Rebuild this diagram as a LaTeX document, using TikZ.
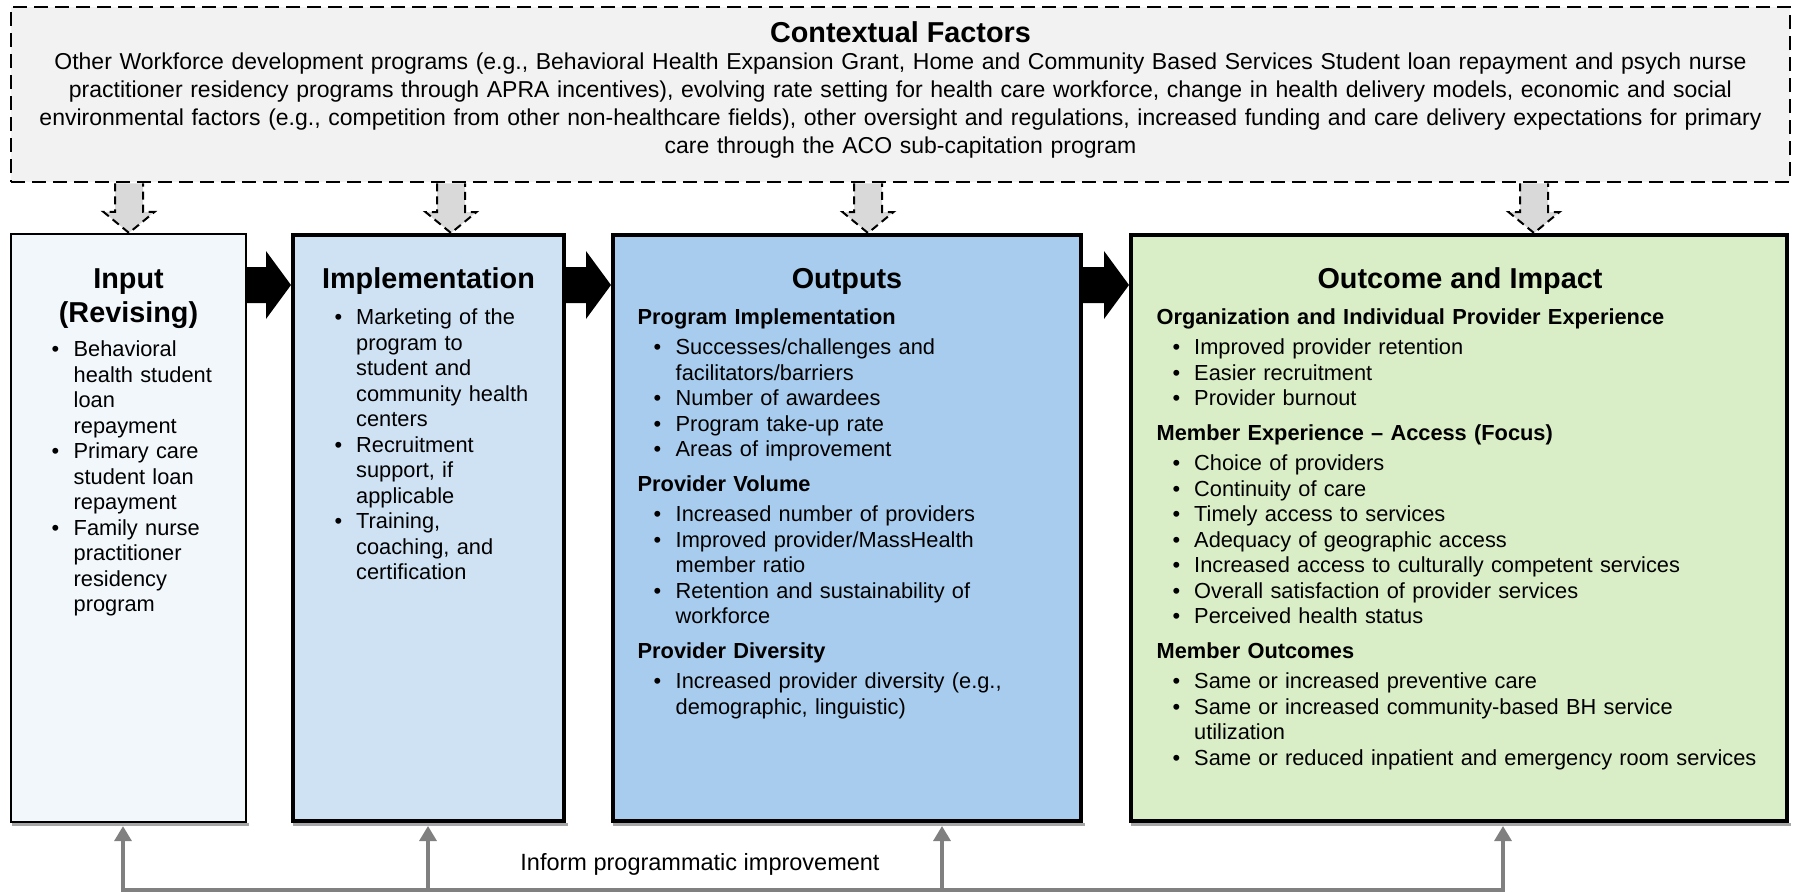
\documentclass[tikz,border=0pt]{standalone}
\usepackage{fontspec}
\setmainfont{Liberation Sans}
\usetikzlibrary{calc,arrows.meta}
\definecolor{ctxfill}{HTML}{F2F2F2}
\definecolor{arrfill}{HTML}{D9D9D9}
\definecolor{inputc}{HTML}{F2F7FC}
\definecolor{implc}{HTML}{CFE2F4}
\definecolor{outpc}{HTML}{A8CCEE}
\definecolor{outcc}{HTML}{D9EEC6}
\definecolor{fbc}{HTML}{808080}
\definecolor{shadc}{HTML}{A6A6A6}
\newlength\bulin
\newlength\txtin
\newcommand\bodyfont{\fontsize{21.8}{25.5}\selectfont}
\newcommand\titlefont{\fontsize{28.8}{34}\selectfont\bfseries}
\newcommand\bitem[1]{\par\noindent\hangindent=\txtin\hangafter=1\strut\hspace*{\bulin}\makebox[\dimexpr\txtin-\bulin\relax][l]{\textbullet}#1\par}
\newcommand\bhead[1]{\par\noindent\strut\textbf{#1}\par\vspace{4.5pt}}
\newcommand\hgap{\vspace{9.5pt}}
\tikzset{
  box/.style={draw=black, line width=4pt, minimum height=586pt, inner sep=0pt},
  ctxbox/.style={draw=black, fill=ctxfill, line width=2.5pt, dash pattern=on 14pt off 7pt, inner sep=0pt},
  ctxarr/.style={draw=black, fill=arrfill, line width=2pt, dash pattern=on 8pt off 5pt},
  bigarr/.style={fill=black},
  body/.style={font=\bodyfont, inner sep=0pt, anchor=north west},
  ttl/.style={font=\titlefont, inner sep=0pt, anchor=base},
  fb/.style={draw=fbc, line width=3.3pt, -{Triangle[width=17pt,length=15pt]}},
  fbboth/.style={draw=fbc, line width=3.3pt, {Triangle[width=17pt,length=15pt]}-{Triangle[width=17pt,length=15pt]}},
}
\begin{document}
\begin{tikzpicture}[x=1pt,y=-1pt]
\useasboundingbox (0,0) rectangle (1793,892);

% contextual factors
\node[ctxbox, minimum width=1779pt, minimum height=175pt] (ctx) at (900.5,94.5) {};
\node[ttl] (ctxT) at (900.5,42) {Contextual Factors};
\node[inner sep=0pt, anchor=north, text width=1770pt, font=\fontsize{23}{28}\selectfont] (ctxbody) at (900.5,49.4)
{\centering\strut Other Workforce development programs (e.g., Behavioral Health Expansion Grant, Home and Community Based Services Student loan repayment and psych nurse\\
practitioner residency programs through APRA incentives), evolving rate setting for health care workforce, change in health delivery models, economic and social\\
environmental factors (e.g., competition from other non-healthcare fields), other oversight and regulations, increased funding and care delivery expectations for primary\\
care through the ACO sub-capitation program\par};

% boxes
\node[box, line width=2.2pt, fill=inputc, minimum width=235pt, minimum height=588pt] (input) at (128.5,528) {};
\node[box, fill=implc, minimum width=271pt] (impl) at (428.5,528) {};
\node[box, fill=outpc, minimum width=468pt] (outp) at (847,528) {};
\node[box, fill=outcc, minimum width=656pt] (outc) at (1459,528) {};
\foreach \b in {input,impl,outp,outc}
  \fill[shadc] ($(\b.south west)+(2,0)$) rectangle ($(\b.south east)+(2,2.5)$);

% titles
\node[ttl] (inputT1) at (128.5,288) {Input};
\node[ttl] (inputT2) at (128.5,322) {(Revising)};
\node[ttl] (implT) at (428.5,288) {Implementation};
\node[ttl] (outpT) at (847,288) {Outputs};
\node[ttl] (outcT) at (1460,288) {Outcome and Impact};

% bodies
\node[body, text width=200pt] (inputB) at (51.5,331.15)
{\setlength\bulin{0pt}\setlength\txtin{22pt}%
\bitem{Behavioral\newline health student\newline loan\newline repayment}
\bitem{Primary care\newline student loan\newline repayment}
\bitem{Family nurse\newline practitioner\newline residency\newline program}};

\node[body, text width=240pt] (implB) at (334.5,299.15)
{\setlength\bulin{0pt}\setlength\txtin{21.5pt}%
\bitem{Marketing of the\newline program to\newline student and\newline community health\newline centers}
\bitem{Recruitment\newline support, if\newline applicable}
\bitem{Training,\newline coaching, and\newline certification}};

\node[body, text width=440pt] (outpB) at (637.5,299.15)
{\setlength\bulin{16pt}\setlength\txtin{38pt}%
\bhead{Program Implementation}
\bitem{Successes/challenges and\newline facilitators/barriers}
\bitem{Number of awardees}
\bitem{Program take-up rate}
\bitem{Areas of improvement}
\hgap\bhead{Provider Volume}
\bitem{Increased number of providers}
\bitem{Improved provider/MassHealth\newline member ratio}
\bitem{Retention and sustainability of\newline workforce}
\hgap\bhead{Provider Diversity}
\bitem{Increased provider diversity (e.g.,\newline demographic, linguistic)}};

\node[body, text width=625pt] (outcB) at (1156.5,299.15)
{\setlength\bulin{16pt}\setlength\txtin{37.5pt}%
\bhead{Organization and Individual Provider Experience}
\bitem{Improved provider retention}
\bitem{Easier recruitment}
\bitem{Provider burnout}
\hgap\bhead{Member Experience – Access (Focus)}
\bitem{Choice of providers}
\bitem{Continuity of care}
\bitem{Timely access to services}
\bitem{Adequacy of geographic access}
\bitem{Increased access to culturally competent services}
\bitem{Overall satisfaction of provider services}
\bitem{Perceived health status}
\hgap\bhead{Member Outcomes}
\bitem{Same or increased preventive care}
\bitem{Same or increased community-based BH service\newline utilization}
\bitem{Same or reduced inpatient and emergency room services}};

% dashed context arrows
\foreach \cx/\bx in {129/input,451/impl,868/outp,1534/outc}{
  \coordinate (ax) at (\cx,0);
  \draw[ctxarr] ($(ctx.south -| ax)+(-14,0)$) -- ($(\bx.north -| ax)+(-14,-21)$) -- ($(\bx.north -| ax)+(-25.5,-21)$) -- (\bx.north -| ax) -- ($(\bx.north -| ax)+(25.5,-21)$) -- ($(\bx.north -| ax)+(14,-21)$) -- ($(ctx.south -| ax)+(14,0)$);
}

% big black arrows
\coordinate (st) at (0,267);
\coordinate (sb) at (0,303);
\coordinate (ht) at (0,251);
\coordinate (hb) at (0,319);
\coordinate (am) at (0,285);
\foreach \a/\b in {input/impl,impl/outp,outp/outc}{
  \fill[bigarr] (\a.east |- st) -- ($(\b.west |- st)+(-25,0)$) -- ($(\b.west |- ht)+(-25,0)$) -- (\b.west |- am) -- ($(\b.west |- hb)+(-25,0)$) -- ($(\b.west |- sb)+(-25,0)$) -- (\a.east |- sb) -- cycle;
}

% feedback
\coordinate (f1) at (123,890);
\coordinate (f2) at (428,890);
\coordinate (f3) at (942,890);
\coordinate (f4) at (1503,890);
\draw[fbboth] ($(f1 |- input.south)+(0,3)$) -- (f1) -- (f4) -- ($(f4 |- outc.south)+(0,3)$);
\draw[fb] (f2) -- ($(f2 |- impl.south)+(0,3)$);
\draw[fb] (f3) -- ($(f3 |- outp.south)+(0,3)$);
\node[font=\fontsize{23.5}{28}\selectfont, inner sep=0pt, anchor=base] (fblabel) at (700,870) {Inform programmatic improvement};
\end{tikzpicture}
\end{document}
